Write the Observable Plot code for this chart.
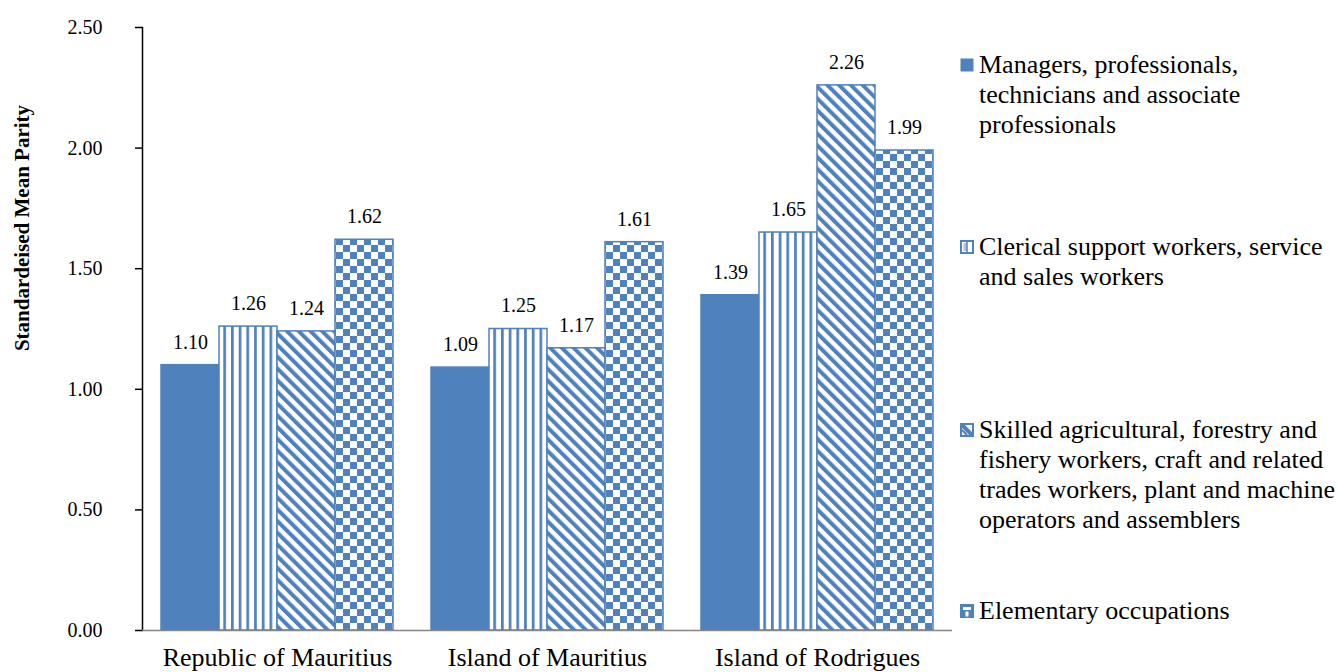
<!DOCTYPE html>
<html>
<head>
<meta charset="utf-8">
<script src="https://cdn.jsdelivr.net/npm/d3@7"></script>
<script src="https://cdn.jsdelivr.net/npm/@observablehq/plot@0.6"></script>
<style>
  html, body { margin: 0; padding: 0; background: white; }
  #wrap { position: relative; width: 1338px; height: 672px; overflow: hidden; font-family: 'Liberation Serif', 'Times New Roman', serif; color: black; }
  #wrap svg [aria-label="y-axis tick"] { stroke: #868686; stroke-width: 1.5; }
  #wrap svg [aria-label="frame"] { stroke: #868686; stroke-width: 1.5; }
  #wrap svg [aria-label="fx-axis tick label"] text, #wrap svg [aria-label="fx-axis tick label"] { font-size: 26px; }
  .ytitle { position: absolute; left: 22px; top: 228px; transform: translate(-50%, -50%) rotate(-90deg); font-weight: bold; font-size: 21px; white-space: nowrap; }
  .leg { position: absolute; left: 979px; font-size: 26px; line-height: 30px; white-space: nowrap; }
  .sw { position: absolute; left: 960px; width: 14px; height: 14px; }
</style>
</head>
<body>
<div id="wrap"></div>
<script>
const regions = ["Republic of Mauritius", "Island of Mauritius", "Island of Rodrigues"];
const seriesNames = [
  "Managers, professionals, technicians and associate professionals",
  "Clerical support workers, service and sales workers",
  "Skilled agricultural, forestry and fishery workers, craft and related trades workers, plant and machine operators and assemblers",
  "Elementary occupations"
];
const legendLines = [
  ["Managers, professionals,", "technicians and associate", "professionals"],
  ["Clerical support workers, service", "and sales workers"],
  ["Skilled agricultural, forestry and", "fishery workers, craft and related", "trades workers, plant and machine", "operators and assemblers"],
  ["Elementary occupations"]
];
const managers   = [1.10, 1.09, 1.39];
const clerical   = [1.26, 1.25, 1.65];
const skilled    = [1.24, 1.17, 2.26];
const elementary = [1.62, 1.61, 1.99];
const yTicks = [0, 0.5, 1.0, 1.5, 2.0, 2.5];
const yTitle = "Standardeised Mean Parity";

const blue = "#4f81bd";
const fills = [blue, "url(#pv)", "url(#pd)", "url(#pc)"];
const seriesValues = [managers, clerical, skilled, elementary];

const rows = [];
seriesNames.forEach((s, si) => {
  regions.forEach((r, ri) => rows.push({region: r, series: s, value: seriesValues[si][ri]}));
});

const chart = Plot.plot({
  width: 1338,
  height: 672,
  marginLeft: 142,
  marginRight: 386,
  marginTop: 27,
  marginBottom: 42,
  style: {fontFamily: "'Liberation Serif', 'Times New Roman', serif", fontSize: "20px", color: "black", background: "white", overflow: "visible"},
  x: {domain: seriesNames, paddingInner: 0, paddingOuter: 0.31, axis: null},
  y: {domain: [0, 2.5], ticks: yTicks, tickFormat: d => d.toFixed(2), tickSize: 7, tickPadding: 33, line: true, label: null},
  fx: {domain: regions, padding: 0, label: null, tickSize: 0, tickPadding: 17, axis: "bottom"},
  color: {domain: seriesNames, range: fills},
  marks: [
    Plot.barY(rows, {fx: "region", x: "series", y: "value", fill: "series", stroke: blue, strokeWidth: 1.5}),
    Plot.text(rows, {fx: "region", x: "series", y: "value", text: d => d.value.toFixed(2), dy: -23, fontSize: 20, fill: "black"}),
    Plot.ruleY([0], {stroke: "#868686", strokeWidth: 1.5})
  ]
});

const defs = d3.select(chart).insert("defs", ":first-child");
const pv = defs.append("pattern").attr("id", "pv").attr("patternUnits", "userSpaceOnUse").attr("width", 7.7).attr("height", 10);
pv.append("rect").attr("width", 7.7).attr("height", 10).attr("fill", "white");
pv.append("rect").attr("x", 0).attr("width", 2.7).attr("height", 10).attr("fill", blue);
const pd = defs.append("pattern").attr("id", "pd").attr("patternUnits", "userSpaceOnUse").attr("width", 8.3).attr("height", 10).attr("patternTransform", "rotate(-45)");
pd.append("rect").attr("width", 8.3).attr("height", 10).attr("fill", "white");
pd.append("rect").attr("x", 0).attr("width", 4).attr("height", 10).attr("fill", blue);
const pc = defs.append("pattern").attr("id", "pc").attr("patternUnits", "userSpaceOnUse").attr("width", 14).attr("height", 14);
pc.append("rect").attr("width", 14).attr("height", 14).attr("fill", "white");
pc.append("rect").attr("x", 0).attr("y", 0).attr("width", 7).attr("height", 7).attr("fill", blue);
pc.append("rect").attr("x", 7).attr("y", 7).attr("width", 7).attr("height", 7).attr("fill", blue);

const wrap = document.getElementById("wrap");
wrap.appendChild(chart);

const t = document.createElement("div");
t.className = "ytitle";
t.textContent = yTitle;
wrap.appendChild(t);

// legend
const legTops = [50, 232, 415, 596];
const swatchSvg = [
  `<svg width="14" height="14"><rect x="0.5" y="0.5" width="13" height="13" fill="${blue}"/></svg>`,
  `<svg width="14" height="14"><rect x="1" y="1" width="12" height="12" fill="white" stroke="${blue}" stroke-width="2"/><rect x="3.5" y="3" width="3" height="8" fill="#a9c0e0"/><line x1="7" y1="2" x2="7" y2="12" stroke="${blue}" stroke-width="1.5"/></svg>`,
  `<svg width="14" height="14"><rect x="1" y="1" width="12" height="12" fill="white" stroke="${blue}" stroke-width="2"/><line x1="2" y1="2" x2="12" y2="12" stroke="${blue}" stroke-width="4"/><line x1="2" y1="7" x2="7" y2="12" stroke="${blue}" stroke-width="2"/></svg>`,
  `<svg width="14" height="14"><rect x="1" y="1" width="12" height="12" fill="${blue}" stroke="${blue}" stroke-width="2"/><rect x="3" y="3" width="8" height="3" fill="white"/><rect x="5.5" y="7.5" width="3" height="5" fill="white"/></svg>`
];
legendLines.forEach((lines, i) => {
  const d = document.createElement("div");
  d.className = "leg";
  d.style.top = legTops[i] + "px";
  d.innerHTML = lines.join("<br>");
  wrap.appendChild(d);
  const s = document.createElement("div");
  s.className = "sw";
  s.style.top = (legTops[i] + 8) + "px";
  s.innerHTML = swatchSvg[i];
  wrap.appendChild(s);
});
</script>
</body>
</html>
